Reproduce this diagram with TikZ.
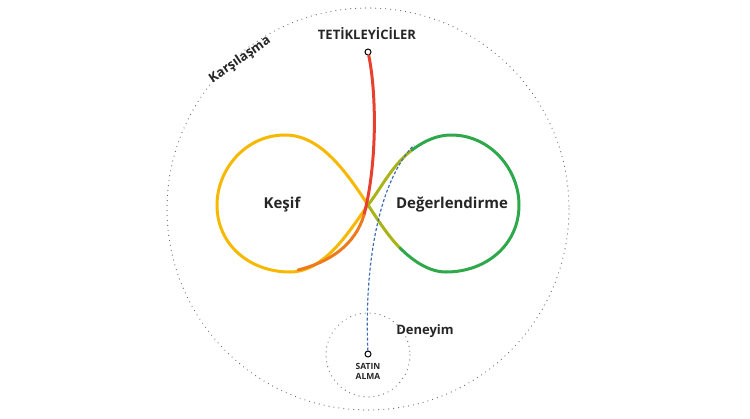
\documentclass[tikz,border=0pt]{standalone}
\usepackage{fontspec}
\setmainfont{Open Sans}
\usetikzlibrary{positioning}
\begin{document}
\begin{tikzpicture}[x=1pt,y=-1pt]
    % Renkler
    \definecolor{sari}{HTML}{F6B800}
    \definecolor{yesil}{HTML}{2EA84A}
    \definecolor{zeytin}{HTML}{A9B418}
    \definecolor{kirmizi}{HTML}{E8402F}
    \definecolor{turuncu}{HTML}{EE7A1E}
    \definecolor{mavi}{HTML}{3F6DB5}
    \tikzset{
        dongu/.style={line width=3pt, line cap=round},
        etiket/.style={font=\bfseries, text=black!85},
        nokta/.style={circle, draw, line width=1pt, fill=white, inner sep=0pt, minimum size=6pt},
        benek/.style={black!60, line width=1.2pt, line cap=round, dash pattern=on 0pt off 5pt}
    }
    \useasboundingbox (0,0) rectangle (750,418);

    % Dis cemberler
    \draw[benek] (368,209) circle (201);
    \draw[benek] (368,355) circle (42);

    % Sekiz (sonsuzluk)
    \draw[dongu, sari] (290,272) .. controls (250,272) and (217,245) .. (217,205)
        .. controls (217,170) and (245,135) .. (285,135)
        .. controls (320,135) and (345,170) .. (368,205);
    \draw[dongu, sari] (290,272) .. controls (325,272) and (350,230) .. (368,205);
    \draw[dongu, zeytin] (368,205) .. controls (380,190) and (392,165) .. (412,150);
    \draw[dongu, yesil] (412,150) .. controls (424,141) and (437,135) .. (451,135)
        .. controls (491,135) and (519,170) .. (519,205)
        .. controls (519,245) and (486,272) .. (446,272);
    \draw[dongu, zeytin] (368,205) .. controls (378,220) and (388,236) .. (400,248);
    \draw[dongu, yesil] (400,248) .. controls (414,262) and (430,272) .. (446,272);

    % Tetikleyiciler egrisi
    \node[nokta] (tetik) at (368,52) {};
    \coordinate (orta) at (364,215);
    \coordinate (alt) at (298,270);
    \draw[dongu, kirmizi] (tetik) .. controls (376,90) and (378,160) .. (orta);
    \draw[dongu, turuncu] (orta) .. controls (355,245) and (330,262) .. (alt);

    % Satin alma egrisi
    \node[nokta] (satin) at (368,354) {};
    \coordinate (ust) at (414,145);
    \draw[mavi, line width=1.2pt, dash pattern=on 3pt off 2pt] (satin) .. controls (364,260) and (380,180) .. (ust);

    % Etiketler
    \node[etiket, font=\bfseries\fontsize{13}{15}\selectfont] (tlabel) at (367,34) {TETİKLEYİCİLER};
    \node[etiket, font=\bfseries\fontsize{13}{15}\selectfont, rotate=35] (kars) at (240,60) {Karşılaşma};
    \node[etiket, font=\bfseries\fontsize{15}{18}\selectfont] (kesif) at (282,205) {Keşif};
    \node[etiket, font=\bfseries\fontsize{15}{18}\selectfont] (deger) at (452,205) {Değerlendirme};
    \node[etiket, font=\bfseries\fontsize{13}{15}\selectfont] (deneyim) at (425,331) {Deneyim};
    \node[etiket, font=\bfseries\fontsize{8.5}{10}\selectfont, align=center, below=2pt of satin] (slabel) {SATIN\\ALMA};
\end{tikzpicture}
\end{document}
